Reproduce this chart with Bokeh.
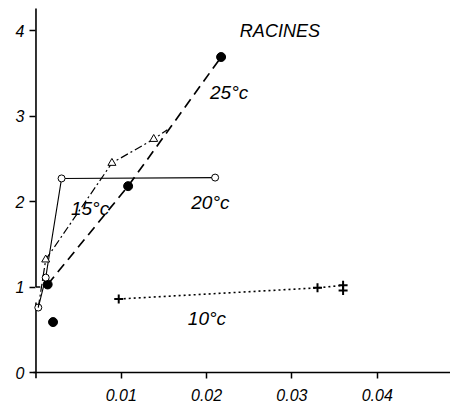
from bokeh.plotting import figure
from bokeh.models import Range1d, FixedTicker
from bokeh.core.properties import value
from bokeh.embed import file_html
from bokeh.resources import INLINE

# ---- data ----
x_ticks = [0.01, 0.02, 0.03, 0.04]
x_tick_labels = ["0.01", "0.02", "0.03", "0.04"]
y_ticks = [0, 1, 2, 3, 4]
y_tick_labels = ["0", "1", "2", "3", "4"]

t25_x = [0.00137, 0.0108, 0.0217]
t25_y = [1.03, 2.18, 3.69]
t25_extra_x = [0.0020]
t25_extra_y = [0.59]

t20_x = [0.00027, 0.00114, 0.0030, 0.0210]
t20_y = [0.76, 1.11, 2.27, 2.28]

t15_x = [0.00114, 0.0089, 0.0138]
t15_y = [1.32, 2.45, 2.73]
t15_line_x = [0.00027, 0.00114, 0.0089, 0.0138, 0.0154]
t15_line_y = [0.76, 1.32, 2.45, 2.73, 2.84]

t10_x = [0.0097, 0.0330, 0.0360, 0.0360]
t10_y = [0.86, 0.99, 1.02, 0.96]

series_labels = ["25°c", "20°c", "15°c", "10°c"]
title_text = "RACINES"

# ---- annotation positions ----
label_x = [0.0204, 0.0182, 0.0041, 0.0178]
label_y = [3.275, 1.99, 1.92, 0.63]
title_x = 0.0239
title_y = 4.0

X0, X1 = -0.00076, 0.04859
Y0, Y1 = -0.070, 4.281
AXIS_TOP = 4.257
BREAK_LO, BREAK_HI = 0.82, 1.0

FONT = value("Liberation Sans")

p = figure(width=450, height=406, x_range=Range1d(X0, X1), y_range=Range1d(Y0, Y1),
           output_backend="svg", toolbar_location=None,
           min_border_left=29, min_border_right=0, min_border_top=6, min_border_bottom=28)
p.xgrid.visible = False
p.ygrid.visible = False
p.outline_line_color = None
p.background_fill_color = "white"
p.border_fill_color = "white"

for ax, ticks, labels in ((p.xaxis[0], x_ticks, x_tick_labels), (p.yaxis[0], y_ticks, y_tick_labels)):
    ax.ticker = FixedTicker(ticks=ticks)
    ax.major_label_overrides = {t: l for t, l in zip(ticks, labels)}
    ax.axis_line_color = None
    ax.major_tick_in = 6
    ax.major_tick_out = 0
    ax.major_tick_line_width = 1.5
    ax.major_tick_line_color = "black"
    ax.minor_tick_line_color = None
    ax.major_label_text_font = "Liberation Sans"
    ax.major_label_text_font_style = "italic"
    ax.major_label_text_font_size = "16px"
    ax.major_label_text_color = "black"
p.xaxis.major_label_standoff = 10
p.yaxis.major_label_standoff = 5

# axis lines (with the break on the y axis)
p.segment(x0=[-0.0003], y0=[0], x1=[X1], y1=[0], line_color="black", line_width=1.6)
p.segment(x0=[0, 0, 0], y0=[Y0, BREAK_HI, BREAK_HI], x1=[0, 0, 0.0005], y1=[BREAK_LO, AXIS_TOP, BREAK_HI],
          line_color="black", line_width=1.6)

# 25 °C
p.line(t25_x, t25_y, line_color="black", line_width=1.7, line_dash="10 6")
p.scatter(t25_x, t25_y, marker="circle", size=9, fill_color="black", line_color="black")
p.scatter(t25_extra_x, t25_extra_y, marker="circle", size=9, fill_color="black", line_color="black")

# 20 °C
p.line(t20_x, t20_y, line_color="black", line_width=1.1)
p.scatter(t20_x, t20_y, marker="circle", size=7, fill_color="white", line_color="black", line_width=1)

# 15 °C
p.line(t15_line_x, t15_line_y, line_color="black", line_width=1.2, line_dash="8 3 2 3")
p.scatter(t15_x, t15_y, marker="triangle", size=8, fill_color="white", line_color="black", line_width=1)

# 10 °C
p.line(t10_x, t10_y, line_color="black", line_width=1.6, line_dash="2 3")
p.scatter(t10_x, t10_y, marker="cross", size=9, line_color="black", line_width=2)

# labels
p.text(x=label_x, y=label_y, text=series_labels, text_font=FONT, text_font_style="italic",
       text_font_size="19px", text_color="black", text_align="left", text_baseline="alphabetic")
p.text(x=[title_x], y=[title_y], text=[title_text], text_font=FONT, text_font_style="italic",
       text_font_size="18px", text_color="black", text_align="left", text_baseline="alphabetic")

open("out.html", "w").write(file_html(p, INLINE))
